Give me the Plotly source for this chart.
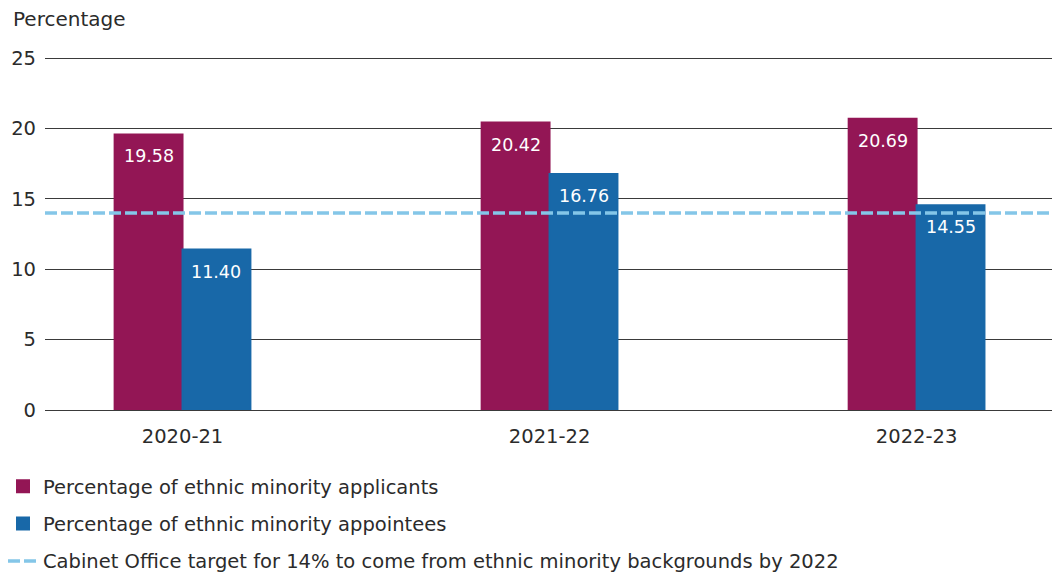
import plotly.graph_objects as go

categories = ["2020-21", "2021-22", "2022-23"]
applicants = [19.58, 20.42, 20.69]
appointees = [11.40, 16.76, 14.55]
target = 14
y_ticks = [0, 5, 10, 15, 20, 25]

name_app = "Percentage of ethnic minority applicants"
name_appt = "Percentage of ethnic minority appointees"
name_target = "Cabinet Office target for 14% to come from ethnic minority backgrounds by 2022"

C_APP = "#931655"
C_APPT = "#1868A8"
C_TGT = "#84C6E8"
FONT = "DejaVu Sans"
TXT = "#2b2b2b"

fig = go.Figure()
fig.add_trace(go.Bar(x=categories, y=applicants, name=name_app, marker_color=C_APP,
                     marker_line=dict(color=C_APP, width=2),
                     legendgroup="a", hoverinfo="skip"))
fig.add_trace(go.Bar(x=categories, y=appointees, name=name_appt, marker_color=C_APPT,
                     marker_line=dict(color=C_APPT, width=2),
                     legendgroup="b", hoverinfo="skip"))

fig.add_shape(type="line", xref="paper", x0=0, x1=1, yref="y", y0=target, y1=target,
              line=dict(color=C_TGT, width=3.5, dash="12px,4px"), layer="above",
              showlegend=True, name=name_target, legendgroup="c")

half = 0.37 / 4
for i, (a, b) in enumerate(zip(applicants, appointees)):
    for off, v in ((-half, a), (half, b)):
        fig.add_annotation(x=i + off, y=v, xref="x", yref="y", text=f"{v:.2f}",
                           showarrow=False, yanchor="middle", yshift=-22,
                           font=dict(family=FONT, size=17.5, color="white"))

fig.add_annotation(x=-34 / 1007, y=25, xref="paper", yref="y", yshift=58 - 19,
                   text="Percentage", showarrow=False, xanchor="left", yanchor="middle",
                   font=dict(family=FONT, size=20, color=TXT))

fig.update_layout(
    width=1056, height=575,
    margin=dict(l=45, r=4, t=55.9, b=165, autoexpand=False),
    paper_bgcolor="white", plot_bgcolor="white",
    barmode="group", bargap=0.63, bargroupgap=0,
    font=dict(family=FONT, size=19.5, color=TXT),
    showlegend=True,
    legend=dict(xref="container", yref="container", x=3 / 1056, y=1 - 467 / 575,
                xanchor="left", yanchor="top", tracegroupgap=9,
                traceorder="grouped", font=dict(family=FONT, size=19.5, color=TXT),
                bgcolor="rgba(0,0,0,0)"),
    xaxis=dict(type="category", range=[-0.3747, 2.369], showgrid=False, ticks="",
               showline=False, ticklabelstandoff=12, tickangle=0, automargin=False,
               tickfont=dict(size=19.5, color=TXT)),
    yaxis=dict(range=[0, 25.15], tickvals=y_ticks, showgrid=True, gridcolor="#3a3a3a",
               gridwidth=1, zeroline=True, zerolinecolor="#3a3a3a", zerolinewidth=1,
               ticks="", ticklabelstandoff=8, automargin=False,
               tickfont=dict(size=19.5, color=TXT), fixedrange=True),
)

fig.write_html("out.html")
